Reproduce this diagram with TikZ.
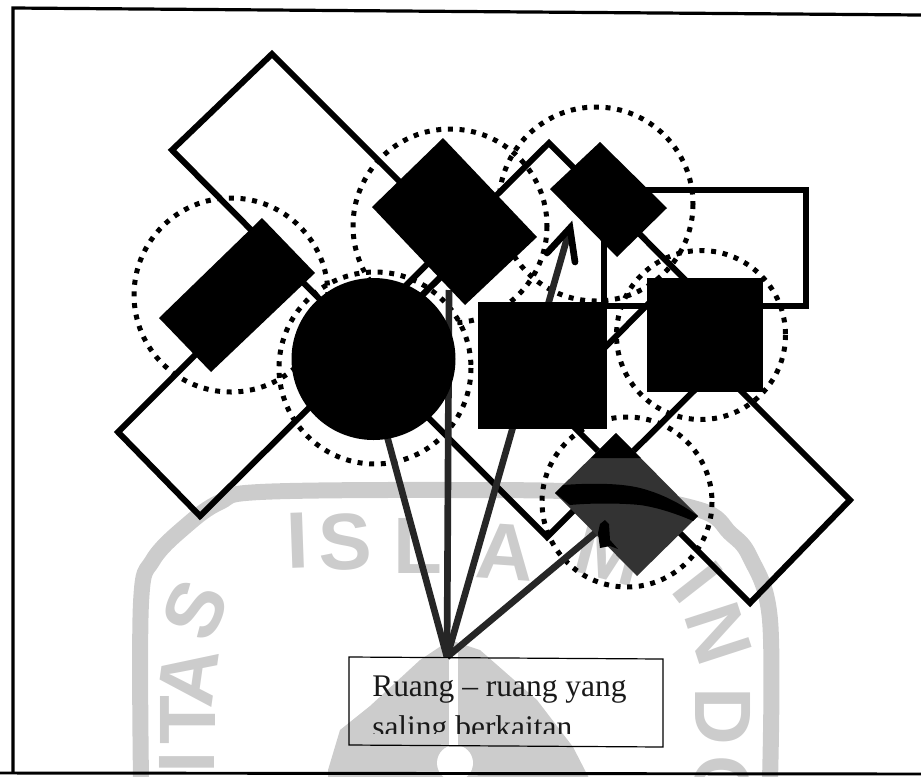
\documentclass[tikz,border=0pt]{standalone}
\usepackage{fontspec}
\setmainfont{Liberation Serif}
\newfontfamily\wmfont{Liberation Sans}
\tikzset{
  x=.75pt,y=-.75pt,
  roomline/.style={draw=black,line width=4.5pt,line join=miter},
  solidroom/.style={fill=black,draw=none},
  dotring/.style={draw=black,line width=3.75pt,dash pattern=on 3.75pt off 5pt},
  link/.style={draw=black!85,line width=5pt},
  wmring/.style={draw=wmgray,line width=12pt},
  wmletter/.style={text=wmgray,font=\wmfont\bfseries\fontsize{60}{60}\selectfont,inner sep=0pt},
  label/.style={anchor=base west,inner sep=0pt,text=black!90,font=\fontsize{23.6}{28}\selectfont},
}
\definecolor{wmgray}{gray}{0.8}
\definecolor{darkroom}{gray}{0.2}
\begin{document}
\begin{tikzpicture}
\useasboundingbox (0,0) rectangle (921,776);
% watermark
\begin{scope}
\clip (0,0) rectangle (921,776);
\draw[wmring] plot[smooth,tension=.6] coordinates {(141,780) (141,603) (153,560) (187,525) (220,502) (260,492) (450,490) (600,493) (700,510) (730,533) (750,557) (770,620) (770,780)};
\fill[wmgray] (450,640) -- (420,660) -- (370,706) -- (340,730) -- (328,770) -- (328,780) -- (590,780) -- (573,747) -- (537,700) -- (480,650) -- cycle;
\fill[white] (449,652) rectangle (458,750);
\fill[white] (455,763) circle[radius=18];
\node[wmletter,rotate=2] (w1) at (298,541) {I};
\node[wmletter,rotate=2] (w2) at (345,542) {S};
\node[wmletter] (w3) at (418,546) {L};
\node[wmletter,rotate=-4] (w4) at (505,552) {A};
\node[wmletter,rotate=-15] (w5) at (610,553) {M};
\node[wmletter,rotate=-52] (w6) at (698,582) {I};
\node[wmletter,rotate=-72] (w7) at (719,633) {N};
\node[wmletter,rotate=-90] (w8) at (723,716) {D};
\node[wmletter,rotate=-92] (w9) at (722,787) {O};
\node[wmletter,rotate=66] (w10) at (195,610) {S};
\node[wmletter,rotate=82] (w11) at (188,677) {A};
\node[wmletter,rotate=90] (w12) at (188,720) {T};
\node[wmletter,rotate=90] (w13) at (187,762) {I};
\end{scope}
% frame
\draw[black,line width=2.4pt] (921,15) -- (400,11) -- (13,8) -- (13,773);
\draw[black,line width=2.2pt] (0,773) -- (921,774);
% dotted rings
\draw[dotring] (231,295) circle[radius=97];
\draw[dotring] (450,226) circle[radius=97];
\draw[dotring] (596,204) circle[radius=97];
\draw[dotring] (375,368) circle[radius=96];
\draw[dotring] (701,335) circle[radius=84.5];
\draw[dotring] (627,502) circle[radius=85];
% room outlines
\draw[roomline] (272,54) -- (172,150) -- (368,348) -- (468,250) -- cycle;
\draw[roomline] (285,265) -- (118,432) -- (200,516) -- (468,250);
\draw[roomline] (549,143) -- (745,340) -- (547,537) -- (351,340) -- cycle;
\draw[roomline] (604,306) rectangle (805.5,190);
\draw[roomline] (850,500) -- (750,603) -- (550,403) -- (651,301) -- cycle;
% connectors
\coordinate (hub) at (447,657);
\coordinate (toCircle) at (387,436);
\coordinate (toDiamond) at (449,290);
\coordinate (arrowTip) at (570,228);
\coordinate (barbA) at (547,253);
\coordinate (barbB) at (575,262);
\coordinate (toDark) at (600,529);
\draw[link] (hub) -- (toCircle);
\draw[link] (hub) -- (toDiamond);
\draw[link] (hub) -- (arrowTip);
\draw[link] (hub) -- (toDark);
\draw[black,line width=5pt,line cap=round,line join=miter] (barbA) -- (arrowTip) -- (barbB);
% solid rooms
\fill[solidroom] (262,218) -- (315,273) -- (211,372) -- (159,318) -- cycle;
\fill[solidroom] (443,138) -- (537,237) -- (465,305) -- (372,207) -- cycle;
\fill[solidroom] (600,142) -- (667,208) -- (617,257) -- (550,189) -- cycle;
\fill[solidroom] (373.5,359) ellipse[x radius=82,y radius=81];
\fill[solidroom] (478,302) rectangle (607,429);
\fill[solidroom] (647,278) rectangle (763,392);
% dark room with scanned bands
\fill[darkroom] (616,433) -- (698,516) -- (637,576) -- (555,493) -- cycle;
\fill[black] (616,433) -- (591,458) -- (641,458) -- cycle;
\fill[black] (555,493) -- (563,485) .. controls (590,483) and (620,483) .. (640,488) .. controls (660,493) and (680,503) .. (698,516) -- (693,521) .. controls (675,513) and (655,507) .. (640,505) .. controls (620,503) and (590,503) .. (570,505) -- cycle;
\fill[black] (598,533) -- (600,524) -- (605,520) -- (609,524) -- (610,540) -- (618,549) -- (610,546) -- (600,548) -- cycle;
% label
\draw[black,line width=.9pt] (349,657) -- (663,659) -- (663,747) -- (349,745) -- cycle;
\begin{scope}
\clip (349,657) rectangle (663,733);
\node[label] (line1) at (372,696) {Ruang -- ruang yang};
\node[label] (line2) at (372,737) {saling berkaitan};
\end{scope}
\end{tikzpicture}
\end{document}
